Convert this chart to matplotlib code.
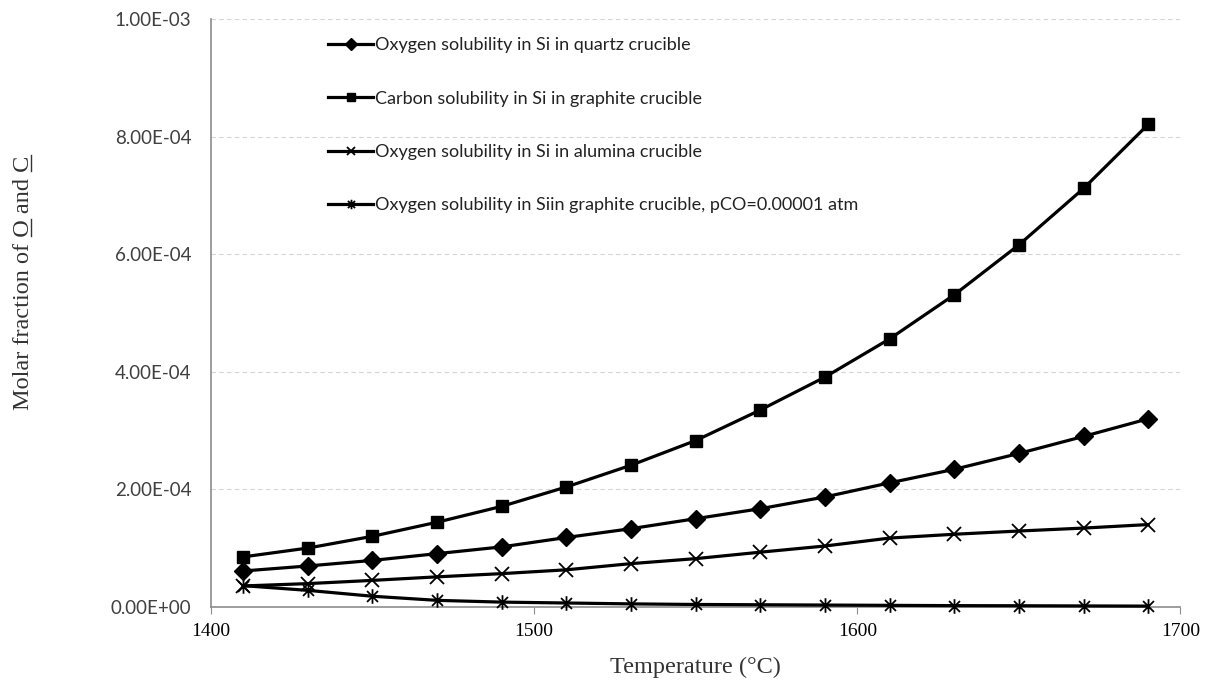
import matplotlib
matplotlib.use('Agg')
import matplotlib.pyplot as plt
from matplotlib.ticker import FuncFormatter
from matplotlib.lines import Line2D
from matplotlib.path import Path
from matplotlib.transforms import IdentityTransform

# temperatures (deg C)
temps = [1410, 1430, 1450, 1470, 1490, 1510, 1530, 1550, 1570, 1590,
         1610, 1630, 1650, 1670, 1690]

# molar fractions (x 1e-6)
o_quartz = [61, 69.5, 79, 90.5, 102, 118, 133, 150, 167, 187, 211, 234, 261, 290, 320]
c_graphite = [85, 100, 120, 144, 171, 204, 241, 283, 335, 391, 456, 531, 616, 712, 821]
o_alumina = [35.5, 39.5, 45, 51, 56.5, 63, 73.5, 82, 93, 103.5, 117, 123.5, 129, 134, 140]
o_graphite = [36, 28, 18, 11, 8, 6.5, 5, 4, 3.5, 3, 2.5, 2, 1.8, 1.5, 1.2]

labels = ['Oxygen solubility in Si in quartz crucible',
          'Carbon solubility in Si in graphite crucible',
          'Oxygen solubility in Si in alumina crucible',
          'Oxygen solubility in Siin graphite crucible, pCO=0.00001 atm']

x_ticks = [1400, 1500, 1600, 1700]
y_ticks = [0, 2e-4, 4e-4, 6e-4, 8e-4, 1e-3]

# excel style asterisk: vertical bar plus an x
star = Path([(0, -1), (0, 1), (-0.75, -0.75), (0.75, 0.75), (-0.75, 0.75), (0.75, -0.75)],
            [Path.MOVETO, Path.LINETO] * 3)

fig = plt.figure(figsize=(12.12, 6.88), dpi=100)
ax = fig.add_axes([0.174, 0.118, 0.8, 0.854])

series = [o_quartz, c_graphite, o_alumina, o_graphite]
styles = [dict(marker='D', markersize=9.5),
          dict(marker='s', markersize=8),
          dict(marker='x', markersize=9.5, markeredgewidth=1.3),
          dict(marker=star, markersize=10.5, markeredgewidth=1.3)]

for vals, lab, st in zip(series, labels, styles):
    ax.plot(temps, [v * 1e-6 for v in vals], color='black', linewidth=2.3,
            label=lab, clip_on=False, zorder=3, **st)

ax.set_xlim(1400, 1700)
ax.set_ylim(0, 1e-3)
ax.set_xticks(x_ticks)
ax.set_yticks(y_ticks)
ax.yaxis.set_major_formatter(FuncFormatter(lambda v, p: '{:.2E}'.format(v)))

ax.grid(axis='y', color='#d4d4d4', linestyle=(0, (4, 3)), linewidth=0.8)
ax.set_axisbelow(True)

for s in ['top', 'right']:
    ax.spines[s].set_visible(False)
for s in ['left', 'bottom']:
    ax.spines[s].set_color('#8c8c8c')
    ax.spines[s].set_linewidth(1.2)

ax.tick_params(axis='x', direction='out', length=5, color='#8c8c8c', pad=7)
ax.tick_params(axis='y', length=0, pad=14)
for t in ax.get_xticklabels():
    t.set_fontfamily('Liberation Serif')
    t.set_fontsize(14)
for t in ax.get_yticklabels():
    t.set_fontfamily('Lato')
    t.set_fontsize(13.5)
    t.set_color('#404040')

ax.set_xlabel('Temperature (°C)', fontfamily='Liberation Serif', fontsize=17.5,
              color='#333333', labelpad=12)
ylab_text = 'Molar fraction of O and C'
ax.set_ylabel(ylab_text, fontfamily='Liberation Serif', fontsize=17.5, color='#333333')
ax.yaxis.set_label_coords(-0.182, 0.552)

leg = ax.legend(loc='upper left', bbox_to_anchor=(0.104, 0.997), frameon=False,
                handlelength=2.5, handletextpad=0.1, labelspacing=2.07,
                markerscale=0.65, prop={'family': 'Lato', 'size': 13})
for t in leg.get_texts():
    t.set_color('#222222')

# underline the O and C of the y label by hand
fig.canvas.draw()
rend = fig.canvas.get_renderer()
ylab = ax.yaxis.label
bb = ylab.get_window_extent(rend)


def text_w(s):
    tmp = fig.text(0, 0, s, fontproperties=ylab.get_fontproperties())
    w = tmp.get_window_extent(rend).width
    tmp.remove()
    return w


full_w = text_w(ylab_text)
o_end = text_w('Molar fraction of O')
o_w = text_w('O')
c_w = text_w('C')
ux = bb.x1 - 3
for a, b in [(o_end - o_w, o_end), (full_w - c_w, full_w)]:
    fig.add_artist(Line2D([ux, ux], [bb.y0 + a, bb.y0 + b], color='#333333',
                          linewidth=1.0, transform=IdentityTransform()))

fig.savefig('out.png', dpi=100)
